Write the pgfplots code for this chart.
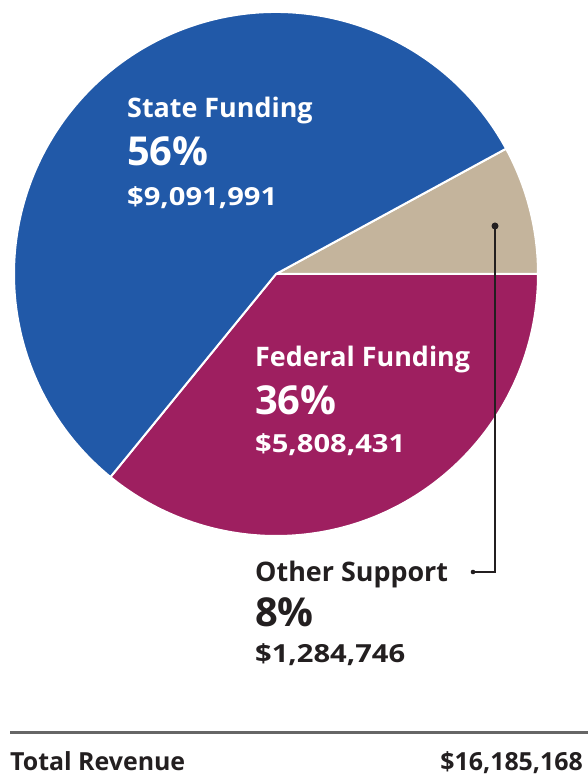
\documentclass[border=0pt]{standalone}
\usepackage{pgfplots}
\usepackage{pgfplotstable}
\pgfplotsset{compat=1.18}
\usepackage{fontspec}
\setmainfont{Open Sans}

\definecolor{stateblue}{HTML}{2159A8}
\definecolor{fedred}{HTML}{9E1F60}
\definecolor{othertan}{HTML}{C4B49C}
\definecolor{ink}{HTML}{231F20}
\definecolor{rule}{HTML}{666666}

% revenue by source, in dollars
\pgfplotstableread{
name    amount
Federal 5808431
Other   1284746
State   9091991
}\revenue

\pgfplotstablegetelem{0}{amount}\of\revenue \let\afed\pgfplotsretval
\pgfplotstablegetelem{1}{amount}\of\revenue \let\aoth\pgfplotsretval
\pgfplotstablegetelem{2}{amount}\of\revenue \let\asta\pgfplotsretval
\edef\total{\fpeval{\afed+\aoth+\asta}}
\edef\angfed{\fpeval{-360*\afed/\total}}
\edef\angoth{\fpeval{360*\aoth/\total}}
\edef\angsta{\fpeval{\angoth+360*\asta/\total}}

\newcommand\lbl[1]{{\fontsize{27}{30}\selectfont\bfseries #1}}
\newcommand\pct[1]{{\fontsize{40}{46}\selectfont\bfseries #1}}
\newcommand\amt[1]{\scalebox{1.17}[1]{\fontsize{25}{30}\selectfont\bfseries #1}}
\newcommand\tot[1]{{\fontsize{25}{30}\selectfont\bfseries #1}}

\begin{document}
\begin{tikzpicture}
\begin{axis}[
    width=588bp, height=777bp,
    scale only axis,
    xmin=0, xmax=588,
    ymin=0, ymax=777,
    hide axis,
    clip=false,
]
% pie, centre (276,503), radius 262
\filldraw[fill=fedred, draw=white, line width=2bp]
    (axis cs:276,503) -- ++(0:262bp) arc[start angle=0, end angle=\angfed, radius=262bp] -- cycle;
\filldraw[fill=othertan, draw=white, line width=2bp]
    (axis cs:276,503) -- ++(0:262bp) arc[start angle=0, end angle=\angoth, radius=262bp] -- cycle;
\filldraw[fill=stateblue, draw=white, line width=2bp]
    (axis cs:276,503) -- ++(\angoth:262bp) arc[start angle=\angoth, end angle=\angsta, radius=262bp] -- cycle;

% labels
\node[anchor=base west, inner sep=0, text=white] at (axis cs:127,659) {\lbl{State Funding}};
\node[anchor=base west, inner sep=0, text=white] at (axis cs:127,611) {\pct{56\%}};
\node[anchor=base west, inner sep=0, text=white] at (axis cs:127,571) {\amt{\$9,091,991}};

\node[anchor=base west, inner sep=0, text=white] at (axis cs:255,410) {\lbl{Federal Funding}};
\node[anchor=base west, inner sep=0, text=white] at (axis cs:255,362) {\pct{36\%}};
\node[anchor=base west, inner sep=0, text=white] at (axis cs:255,324) {\amt{\$5,808,431}};

\node[anchor=base west, inner sep=0, text=ink] at (axis cs:255,195) {\lbl{Other Support}};
\node[anchor=base west, inner sep=0, text=ink] at (axis cs:255,150) {\pct{8\%}};
\node[anchor=base west, inner sep=0, text=ink] at (axis cs:255,114) {\amt{\$1,284,746}};

% leader line for the small slice
\draw[ink, line width=1.4bp] (axis cs:495,551) -- (axis cs:495,205) -- (axis cs:473,205);
\fill[ink] (axis cs:495,551) circle[radius=3.5bp];
\fill[ink] (axis cs:473,205) circle[radius=2.3bp];

% total
\draw[rule, line width=3bp] (axis cs:10,44) -- (axis cs:588,44);
\node[anchor=base west, inner sep=0, text=ink] at (axis cs:10,7) {\tot{Total Revenue}};
\node[anchor=base east, inner sep=0, text=ink] at (axis cs:583,7) {\tot{\$16,185,168}};
\end{axis}
\pgfresetboundingbox
\path (0,0) rectangle (588bp,777bp);
\end{tikzpicture}
\end{document}
